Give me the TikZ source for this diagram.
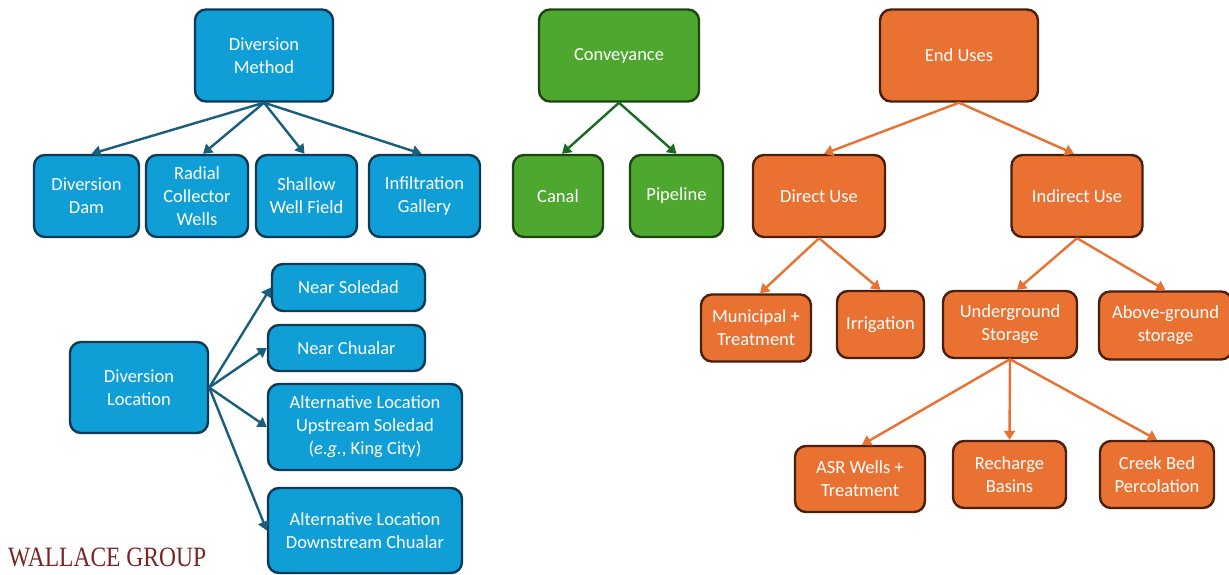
\documentclass[tikz,border=0pt]{standalone}
\usepackage{fontspec}
\setmainfont{Carlito}
\newfontfamily\logofont{Liberation Serif}
\usetikzlibrary{arrows.meta}
\definecolor{bfill}{HTML}{0F9ED5}
\definecolor{bdraw}{HTML}{0C3A55}
\definecolor{barr}{HTML}{1A5E7E}
\definecolor{gfill}{HTML}{4EA72E}
\definecolor{gdraw}{HTML}{1E4514}
\definecolor{garr}{HTML}{196B24}
\definecolor{ofill}{HTML}{E97132}
\definecolor{odraw}{HTML}{4A200C}
\definecolor{oarr}{HTML}{E97132}
\definecolor{logored}{HTML}{7A2424}
\tikzset{
  box/.style={draw, line width=2.4pt, rounded corners=11pt, text=white, align=center,
    font=\fontsize{18.5}{23}\selectfont, inner sep=0pt},
  bluebox/.style={box, fill=bfill, draw=bdraw},
  greenbox/.style={box, fill=gfill, draw=gdraw},
  orangebox/.style={box, fill=ofill, draw=odraw},
  conn/.style={line width=2.4pt, -{Triangle[width=11pt,length=9pt]}},
  bluearrow/.style={conn, draw=barr},
  greenarrow/.style={conn, draw=garr},
  orangearrow/.style={conn, draw=oarr},
}
\begin{document}
\begin{tikzpicture}[x=1pt,y=-1pt]
\useasboundingbox (0,0) rectangle (1229,575);
\fill[white] (0,0) rectangle (1229,575);

% Blue: diversion method
\node[bluebox, minimum width=138pt, minimum height=92pt] (dm) at (264,55.5) {Diversion\\Method};
\node[bluebox, minimum width=105pt, minimum height=82pt] (dd) at (86.5,196) {Diversion\\Dam};
\node[bluebox, minimum width=102pt, minimum height=82pt] (rc) at (197,196) {Radial\\Collector\\Wells};
\node[bluebox, minimum width=101pt, minimum height=82pt] (sw) at (306.5,196) {Shallow\\Well Field};
\node[bluebox, minimum width=111pt, minimum height=82pt] (ig) at (424.5,196) {Infiltration\\Gallery};

% Green: conveyance
\node[greenbox, minimum width=160pt, minimum height=92pt] (conv) at (619,55.5) {Conveyance};
\node[greenbox, minimum width=90pt, minimum height=82pt] (canal) at (558,196) {Canal};
\node[greenbox, minimum width=93pt, minimum height=82pt] (pipe) at (676.5,196) {Pipeline};

% Orange: end uses
\node[orangebox, minimum width=158pt, minimum height=92pt] (eu) at (959,55.5) {End Uses};
\node[orangebox, minimum width=132pt, minimum height=82pt] (du) at (819,196) {Direct Use};
\node[orangebox, minimum width=131pt, minimum height=82pt] (iu) at (1077,196) {Indirect Use};
\node[orangebox, minimum width=110pt, minimum height=67pt] (mun) at (756,328) {Municipal +\\Treatment};
\node[orangebox, minimum width=87pt, minimum height=67pt] (irr) at (880.5,324.5) {Irrigation};
\node[orangebox, minimum width=134pt, minimum height=67pt] (ug) at (1010,324.5) {Underground\\Storage};
\node[orangebox, minimum width=133pt, minimum height=68pt] (ag) at (1165.5,325.5) {Above-ground\\storage};
\node[orangebox, minimum width=130pt, minimum height=66pt] (asr) at (860,479) {ASR Wells +\\Treatment};
\node[orangebox, minimum width=113pt, minimum height=67pt] (rb) at (1009.5,474.5) {Recharge\\Basins};
\node[orangebox, minimum width=114pt, minimum height=67pt] (cb) at (1157,474.5) {Creek Bed\\Percolation};

% Blue: diversion location
\node[bluebox, minimum width=138pt, minimum height=91pt] (dl) at (139,387.5) {Diversion\\Location};
\node[bluebox, minimum width=153pt, minimum height=47pt] (ns) at (348.5,287.5) {Near Soledad};
\node[bluebox, minimum width=157pt, minimum height=46pt] (nc) at (346.5,348) {Near Chualar};
\node[bluebox, minimum width=194pt, minimum height=86pt] (au) at (365,427) {Alternative Location\\Upstream Soledad\\(\textit{e.g.}, King City)};
\node[bluebox, minimum width=194pt, minimum height=85pt] (ad) at (365,530.5) {Alternative Location\\Downstream Chualar};

% Connectors
\draw[bluearrow] (dm.south) -- ([xshift=5pt]dd.north);
\draw[bluearrow] (dm.south) -- ([xshift=6pt]rc.north);
\draw[bluearrow] (dm.south) -- ([xshift=-2pt]sw.north);
\draw[bluearrow] (dm.south) -- ([xshift=-3pt]ig.north);

\draw[greenarrow] (conv.south) -- ([xshift=4pt]canal.north);
\draw[greenarrow] (conv.south) -- (pipe.north);

\draw[orangearrow] (eu.south) -- ([xshift=5pt]du.north);
\draw[orangearrow] (eu.south) -- ([xshift=-3pt]iu.north);
\draw[orangearrow] (du.south) -- ([xshift=4pt]mun.north);
\draw[orangearrow] (du.south) -- (irr.north);
\draw[orangearrow] (iu.south) -- ([xshift=7pt]ug.north);
\draw[orangearrow] (iu.south) -- (ag.north);
\draw[orangearrow] (ug.south) -- ([xshift=2pt]asr.north);
\draw[orangearrow] (ug.south) -- (rb.north);
\draw[orangearrow] (ug.south) -- (cb.north);

\draw[bluearrow] (dl.east) -- (ns.west);
\draw[bluearrow] (dl.east) -- (nc.west);
\draw[bluearrow] (dl.east) -- (au.west);
\draw[bluearrow] (dl.east) -- (ad.west);

% Logo
\node[anchor=base west, inner sep=0pt, text=logored, font=\logofont\fontsize{28}{28}\selectfont] (logo) at (8,566) {\scalebox{0.84}[1]{WALLACE GROUP}};
\end{tikzpicture}
\end{document}
